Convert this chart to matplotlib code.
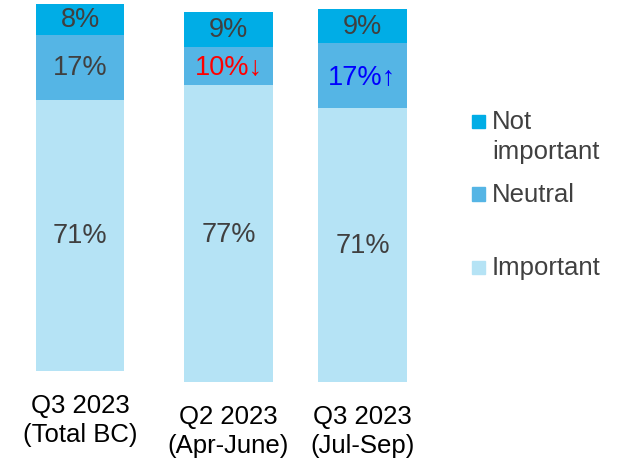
import matplotlib.pyplot as plt
from matplotlib.patches import Rectangle

plt.rcParams['font.family'] = ['Liberation Sans', 'DejaVu Sans']

# Data
cat_total = ['Q3 2023\n(Total BC)']
cat_quarters = ['Q2 2023\n(Apr-June)', 'Q3 2023\n(Jul-Sep)']
important_total = [71]
neutral_total = [17]
not_important_total = [8]
important_q = [77, 71]
neutral_q = [10, 17]
not_important_q = [9, 9]
neutral_q_labels = ['10%\u2193', '17%\u2191']
neutral_q_colors = ['#FF0000', '#0000FF']

c_imp = '#B5E3F5'
c_neu = '#55B5E5'
c_not = '#00ADE6'
txt = '#404040'
W, H = 624, 464
VS = 19.5   # value label size
LS = 18.5   # axis / legend text size

fig = plt.figure(figsize=(W / 100, H / 100), dpi=100)


def px_axes(left, top, right, bottom):
    return fig.add_axes([left / W, 1 - bottom / H, (right - left) / W, (bottom - top) / H])


def stack(ax, x, imp, neu, nt, width):
    ax.bar(x, imp, width, color=c_imp)
    ax.bar(x, neu, width, bottom=imp, color=c_neu)
    b2 = [a + b for a, b in zip(imp, neu)]
    ax.bar(x, nt, width, bottom=b2, color=c_not)
    return b2


def style(ax, labels, x):
    for s in ax.spines.values():
        s.set_visible(False)
    ax.set_yticks([])
    ax.set_xticks(x)
    ax.set_xticklabels(labels, fontsize=LS, color='black', linespacing=1.25)
    ax.tick_params(axis='x', length=0, pad=16)


# Total BC bar
ax1 = px_axes(36, 5, 124, 372)
x1 = [0]
b2 = stack(ax1, x1, important_total, neutral_total, not_important_total, 1.0)
ax1.set_xlim(-0.5, 0.5)
ax1.set_ylim(0, b2[0] + not_important_total[0])
for i in range(len(x1)):
    ax1.text(x1[i], important_total[i] / 2, f'{important_total[i]}%', ha='center', va='center', fontsize=VS, color=txt)
    ax1.text(x1[i], important_total[i] + neutral_total[i] / 2, f'{neutral_total[i]}%', ha='center', va='center', fontsize=VS, color=txt)
    ax1.text(x1[i], b2[i] + not_important_total[i] / 2, f'{not_important_total[i]}%', ha='center', va='center', fontsize=VS, color=txt)
style(ax1, cat_total, x1)

# Quarterly bars
ax2 = px_axes(184, 10, 407, 383)
x2 = [0, 1]
bw = 89 / 134
b2q = stack(ax2, x2, important_q, neutral_q, not_important_q, bw)
ax2.set_xlim(-bw / 2, 1 + bw / 2)
ax2.set_ylim(0, 96.8)
for i in range(len(x2)):
    ax2.text(x2[i], important_q[i] / 2, f'{important_q[i]}%', ha='center', va='center', fontsize=VS, color=txt)
    ax2.text(x2[i], important_q[i] + neutral_q[i] / 2, neutral_q_labels[i], ha='center', va='center', fontsize=VS, color=neutral_q_colors[i])
    ax2.text(x2[i], b2q[i] + not_important_q[i] / 2, f'{not_important_q[i]}%', ha='center', va='center', fontsize=VS, color=txt)
style(ax2, cat_quarters, x2)

# Legend drawn by hand
legend_items = [('Not', c_not, 122), ('Neutral', c_neu, 195), ('Important', c_imp, 268)]
for label, col, y in legend_items:
    fig.patches.append(Rectangle((472 / W, 1 - (y + 6.5) / H), 13 / W, 13 / H,
                                 transform=fig.transFigure, color=col))
    fig.text(492 / W, 1 - y / H, label, fontsize=LS, color=txt, va='center')
fig.text(492 / W, 1 - 152 / H, 'important', fontsize=LS, color=txt, va='center')

fig.savefig('out.png', dpi=100)
